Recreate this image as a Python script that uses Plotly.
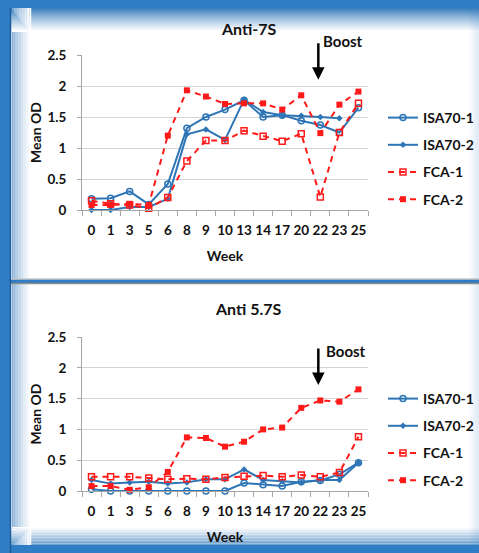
import plotly.graph_objects as go

weeks = ["0", "1", "3", "5", "6", "8", "9", "10", "13", "14", "17", "20", "22", "23", "25"]

# Anti-7S panel
a7_isa1 = [0.18, 0.19, 0.30, 0.09, 0.42, 1.32, 1.50, 1.62, 1.77, 1.50, 1.53, 1.44, 1.37, 1.25, 1.65]
a7_isa2 = [0.00, 0.00, 0.05, 0.05, 0.18, 1.22, 1.30, 1.13, 1.78, 1.58, 1.53, 1.52, 1.50, 1.48, None]
a7_fca1 = [0.15, 0.10, 0.08, 0.03, 0.20, 0.79, 1.12, 1.12, 1.28, 1.19, 1.11, 1.23, 0.21, 1.25, 1.72]
a7_fca2 = [0.08, 0.08, 0.10, 0.08, 1.20, 1.93, 1.83, 1.71, 1.72, 1.72, 1.62, 1.85, 1.24, 1.70, 1.91]

# Anti 5.7S panel
a57_isa1 = [0.03, 0.00, 0.00, 0.00, 0.00, 0.00, 0.00, 0.00, 0.13, 0.10, 0.08, 0.15, 0.17, 0.27, 0.46]
a57_isa2 = [0.18, 0.12, 0.14, 0.15, 0.12, 0.14, 0.19, 0.19, 0.35, 0.18, 0.16, 0.14, 0.18, 0.18, 0.46]
a57_fca1 = [0.23, 0.23, 0.23, 0.21, 0.19, 0.20, 0.19, 0.22, 0.24, 0.25, 0.23, 0.26, 0.23, 0.30, 0.88]
a57_fca2 = [0.08, 0.08, 0.02, 0.06, 0.31, 0.87, 0.86, 0.72, 0.80, 1.00, 1.03, 1.35, 1.47, 1.45, 1.65]

series_names = ["ISA70-1", "ISA70-2", "FCA-1", "FCA-2"]
panel_titles = ["Anti-7S", "Anti 5.7S"]
boost_week = "22"

W, H = 479, 553
def px(x): return x / W
def py(y): return 1 - y / H

BLUE = "#2e75b6"
RED = "#ff1a1a"
FONT = "Lato"

styles = [
    dict(line=dict(color=BLUE, width=2), marker=dict(symbol="circle-open", size=6, color=BLUE, line=dict(width=1.5))),
    dict(line=dict(color=BLUE, width=2), marker=dict(symbol="diamond", size=5, color=BLUE)),
    dict(line=dict(color=RED, width=2, dash="6px,5px"), marker=dict(symbol="square-open", size=6, color=RED, line=dict(width=1.5))),
    dict(line=dict(color=RED, width=2, dash="6px,5px"), marker=dict(symbol="square", size=6, color=RED)),
]

fig = go.Figure()
panels = [
    ("x", "y", "legend", [a7_isa1, a7_isa2, a7_fca1, a7_fca2]),
    ("x2", "y2", "legend2", [a57_isa1, a57_isa2, a57_fca1, a57_fca2]),
]
for pi, (xa, ya, lg, data) in enumerate(panels):
    for si, vals in enumerate(data):
        fig.add_trace(go.Scatter(
            x=weeks, y=vals, name=series_names[si], mode="lines+markers",
            xaxis=xa, yaxis=ya, legend=lg, legendgroup=f"{pi}-{si}",
            cliponaxis=False, connectgaps=False, **styles[si]))

tickfont = dict(family=FONT, size=13.5, color="#111", weight="bold")
titlefont = dict(family=FONT, size=14, color="#111", weight="bold")

def xaxis_cfg(anchor):
    return dict(type="category", range=[-0.5, 14.5], domain=[px(82), px(368)], anchor=anchor,
                tickson="boundaries", ticks="outside", ticklen=5, tickcolor="#a6a6a6", tickangle=0,
                ticklabelstandoff=8,
                showgrid=False, showline=True, linecolor="#a6a6a6", linewidth=1, automargin=False,
                tickfont=tickfont, title=dict(text="Week", font=titlefont, standoff=13))

def yaxis_cfg(anchor, top, bottom):
    return dict(range=[0, 2.5], dtick=0.5, domain=[py(bottom), py(top)], anchor=anchor,
                showgrid=True, gridcolor="#d4d4d4", gridwidth=1, zeroline=False, automargin=False,
                showline=True, linecolor="#a6a6a6", ticks="outside", ticklen=4, tickcolor="#a6a6a6",
                ticklabelstandoff=8,
                tickfont=tickfont, title=dict(text="Mean OD", font=titlefont, standoff=2))

# background bands (frame look)
shapes = []
shapes.append(dict(type="rect", xref="paper", yref="paper", x0=px(11), x1=1, y0=py(279), y1=py(8),
                   fillcolor="white", line=dict(width=0), layer="below"))
shapes.append(dict(type="rect", xref="paper", yref="paper", x0=px(11), x1=1, y0=py(545), y1=py(284),
                   fillcolor="white", line=dict(width=0), layer="below"))
def blend(t):
    c0 = (31, 109, 181)
    c = [int(round(a + (255 - a) * t)) for a in c0]
    return "rgb(%d,%d,%d)" % tuple(c)
n = 12
for i in range(n):
    t = (i + 1) / n
    shapes.append(dict(type="rect", xref="paper", yref="paper", x0=px(11), x1=1,
                       y0=py(8 + 2 * (i + 1)), y1=py(8 + 2 * i), fillcolor=blend(t ** 0.8),
                       line=dict(width=0), layer="below"))
    for (yt, yb) in [(8, 279), (284, 545)]:
        shapes.append(dict(type="rect", xref="paper", yref="paper", x0=px(12 + 1.6 * i), x1=px(12 + 1.6 * (i + 1)),
                           y0=py(yb), y1=py(yt), fillcolor=blend(0.35 + 0.65 * t ** 0.7),
                           line=dict(width=0), layer="below"))
    shapes.append(dict(type="rect", xref="paper", yref="paper", x0=px(11), x1=1,
                       y0=py(545 - 1.5 * i), y1=py(545 - 1.5 * (i + 1)), fillcolor=blend(0.3 + 0.7 * t),
                       line=dict(width=0), layer="below"))
for i in range(5):
    shapes.append(dict(type="rect", xref="paper", yref="paper", x0=px(469 + 2 * i), x1=px(471 + 2 * i),
                       y0=py(545), y1=py(8), fillcolor="rgba(47,125,196,%.2f)" % (0.03 + 0.03 * i),
                       line=dict(width=0), layer="below"))
shapes.append(dict(type="line", xref="paper", yref="paper", x0=px(10.5), x1=px(10.5), y0=0, y1=py(8),
                   line=dict(color="#1c5c9c", width=1.5), layer="below"))
shapes.append(dict(type="line", xref="paper", yref="paper", x0=px(11), x1=1, y0=py(279), y1=py(279),
                   line=dict(color="#c8c8c8", width=1.5), layer="below"))
shapes.append(dict(type="line", xref="paper", yref="paper", x0=px(11), x1=1, y0=py(283.5), y1=py(283.5),
                   line=dict(color="#8c8c8c", width=1.5), layer="below"))

boost_idx = weeks.index(boost_week)
headfont = dict(family=FONT, size=16, color="#111", weight="bold")
boostfont = dict(family=FONT, size=15, color="#111", weight="bold")
annotations = [
    dict(text=panel_titles[0], xref="paper", yref="paper", x=px(249), y=py(28), xanchor="center", yanchor="middle",
         showarrow=False, font=headfont),
    dict(text=panel_titles[1], xref="paper", yref="paper", x=px(249), y=py(308), xanchor="center", yanchor="middle",
         showarrow=False, font=headfont),
    dict(text="", xref="x", yref="y", x=boost_idx, y=2.1, ax=0, ay=-38, showarrow=True,
         arrowhead=2, arrowsize=1, arrowwidth=2.5, arrowcolor="black", xshift=-2),
    dict(text="", xref="x2", yref="y2", x=boost_idx, y=1.72, ax=0, ay=-38, showarrow=True,
         arrowhead=2, arrowsize=1, arrowwidth=2.5, arrowcolor="black", xshift=-2),
    dict(text="Boost", xref="paper", yref="paper", x=px(321), y=py(41), xanchor="left", yanchor="middle",
         showarrow=False, font=boostfont),
    dict(text="Boost", xref="paper", yref="paper", x=px(324), y=py(351), xanchor="left", yanchor="middle",
         showarrow=False, font=boostfont),
]

legend_common = dict(xanchor="left", yanchor="top", bgcolor="rgba(0,0,0,0)", tracegroupgap=6,
                     itemwidth=30, font=dict(family=FONT, size=14, color="#111", weight="bold"))

fig.update_layout(
    template="none",
    width=W, height=H, margin=dict(l=0, r=0, t=0, b=0, autoexpand=False),
    paper_bgcolor="#2f7dc4", plot_bgcolor="rgba(0,0,0,0)",
    xaxis=xaxis_cfg("y"), yaxis=yaxis_cfg("x", 55, 210),
    xaxis2=xaxis_cfg("y2"), yaxis2=yaxis_cfg("x2", 337, 491),
    legend=dict(x=px(383), y=py(102), **legend_common),
    legend2=dict(x=px(383), y=py(383), **legend_common),
    shapes=shapes, annotations=annotations, showlegend=True,
)

fig.write_html("out.html", config={"displayModeBar": False},
               post_script="document.body.style.margin='0';")
